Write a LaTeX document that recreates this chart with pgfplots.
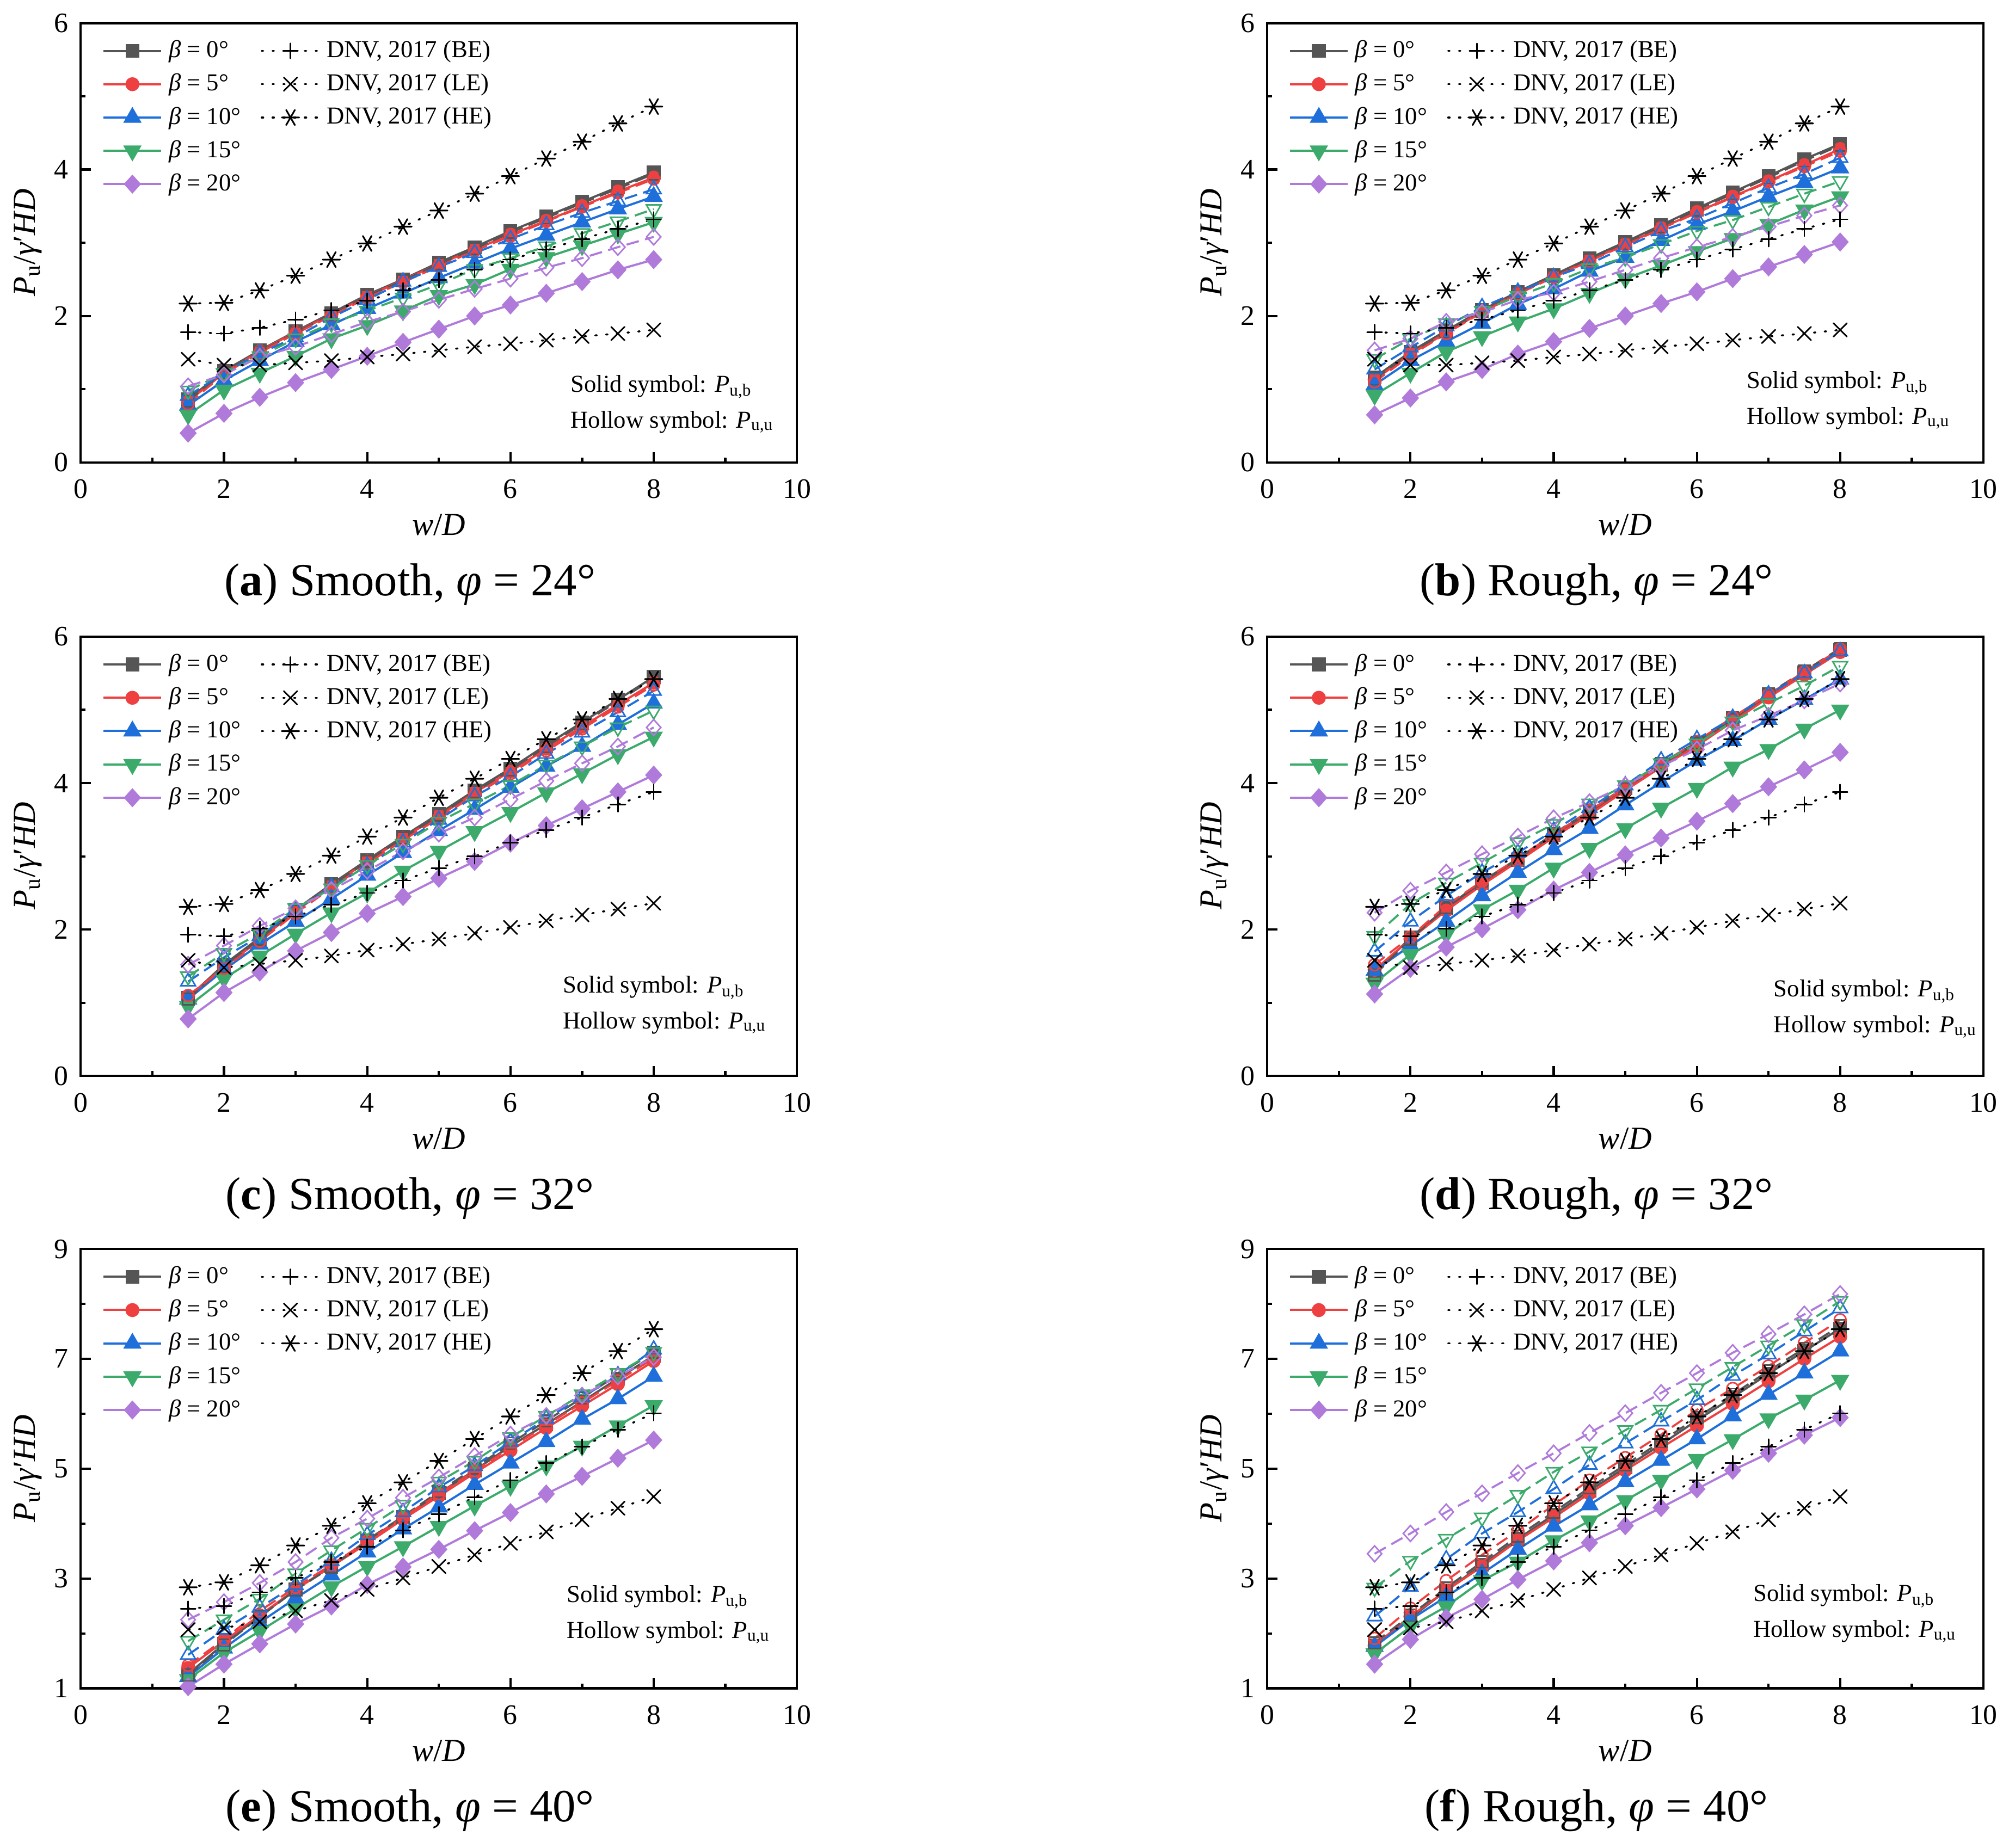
\documentclass[border=0pt]{standalone}
\usepackage{fontspec}
\setmainfont{Liberation Serif}
\usepackage{pgfplots}
\usepackage{pgfplotstable}
\pgfplotsset{compat=1.18}

\definecolor{c0}{RGB}{85,85,85}
\definecolor{c5}{RGB}{238,64,64}
\definecolor{c10}{RGB}{30,111,217}
\definecolor{c15}{RGB}{59,170,107}
\definecolor{c20}{RGB}{176,122,219}

% panel tables: x, solid (beta=0,5,10,15,20), hollow (beta=0,5,10,15,20)
\pgfplotstableread{
x s0 s5 s10 s15 s20 h0 h5 h10 h15 h20
1.5 0.86 0.84 0.78 0.65 0.40 0.84 0.80 0.91 0.98 1.04
2 1.25 1.22 1.12 0.99 0.67 1.23 1.21 1.22 1.22 1.20
2.5 1.53 1.52 1.39 1.22 0.89 1.51 1.50 1.49 1.45 1.44
3 1.79 1.78 1.65 1.45 1.09 1.77 1.76 1.71 1.69 1.58
3.5 2.04 2.02 1.88 1.69 1.27 2.02 2.00 1.98 1.90 1.75
4 2.29 2.27 2.10 1.87 1.45 2.27 2.25 2.22 2.07 1.92
4.5 2.50 2.49 2.31 2.07 1.64 2.48 2.46 2.47 2.25 2.06
5 2.73 2.71 2.52 2.28 1.82 2.71 2.68 2.67 2.43 2.22
5.5 2.94 2.91 2.72 2.43 2.00 2.92 2.89 2.86 2.64 2.37
6 3.16 3.11 2.92 2.64 2.15 3.14 3.09 3.05 2.79 2.51
6.5 3.36 3.30 3.10 2.80 2.31 3.34 3.29 3.24 2.95 2.66
7 3.56 3.50 3.28 2.96 2.47 3.54 3.49 3.41 3.13 2.79
7.5 3.76 3.70 3.46 3.12 2.63 3.74 3.68 3.57 3.29 2.94
8 3.96 3.89 3.63 3.28 2.77 3.94 3.87 3.73 3.46 3.08
}\tA
\pgfplotstableread{
x s0 s5 s10 s15 s20 h0 h5 h10 h15 h20
1.5 1.16 1.13 1.06 0.92 0.65 1.14 1.10 1.27 1.41 1.53
2 1.51 1.48 1.39 1.22 0.88 1.49 1.46 1.57 1.69 1.69
2.5 1.80 1.77 1.65 1.51 1.10 1.78 1.76 1.86 1.90 1.92
3 2.08 2.06 1.90 1.72 1.27 2.06 2.05 2.12 2.07 2.05
3.5 2.33 2.31 2.16 1.92 1.48 2.31 2.30 2.33 2.27 2.22
4 2.56 2.54 2.37 2.10 1.65 2.54 2.53 2.53 2.45 2.32
4.5 2.79 2.76 2.61 2.31 1.83 2.77 2.75 2.71 2.65 2.47
5 3.01 2.98 2.80 2.51 2.00 2.99 2.97 2.94 2.80 2.63
5.5 3.24 3.20 3.03 2.69 2.17 3.22 3.19 3.16 2.98 2.79
6 3.47 3.42 3.25 2.88 2.33 3.45 3.41 3.33 3.16 2.94
6.5 3.69 3.63 3.43 3.06 2.51 3.67 3.62 3.54 3.31 3.08
7 3.91 3.84 3.63 3.25 2.67 3.89 3.83 3.75 3.49 3.22
7.5 4.14 4.06 3.82 3.45 2.84 4.12 4.04 3.94 3.67 3.37
8 4.35 4.28 4.02 3.63 3.01 4.33 4.25 4.16 3.84 3.51
}\tB
\pgfplotstableread{
x s0 s5 s10 s15 s20 h0 h5 h10 h15 h20
1.5 1.07 1.08 1.05 0.95 0.78 1.05 1.10 1.29 1.36 1.52
2 1.52 1.49 1.45 1.33 1.14 1.50 1.47 1.62 1.68 1.78
2.5 1.89 1.86 1.80 1.64 1.42 1.87 1.84 1.91 1.95 2.05
3 2.27 2.25 2.11 1.94 1.71 2.25 2.22 2.27 2.29 2.29
3.5 2.62 2.60 2.42 2.23 1.96 2.60 2.57 2.58 2.56 2.54
4 2.95 2.93 2.74 2.50 2.22 2.93 2.90 2.87 2.88 2.80
4.5 3.27 3.25 3.05 2.80 2.45 3.25 3.22 3.19 3.17 3.07
5 3.58 3.55 3.35 3.07 2.70 3.56 3.52 3.50 3.47 3.31
5.5 3.90 3.87 3.64 3.34 2.93 3.88 3.84 3.82 3.72 3.53
6 4.20 4.16 3.94 3.60 3.18 4.18 4.13 4.09 3.97 3.78
6.5 4.52 4.47 4.23 3.87 3.42 4.50 4.44 4.40 4.25 4.03
7 4.83 4.77 4.50 4.13 3.65 4.81 4.74 4.69 4.50 4.27
7.5 5.14 5.07 4.80 4.39 3.88 5.12 5.04 4.97 4.76 4.50
8 5.45 5.37 5.09 4.63 4.11 5.43 5.34 5.26 4.99 4.76
}\tC
\pgfplotstableread{
x s0 s5 s10 s15 s20 h0 h5 h10 h15 h20
1.5 1.40 1.45 1.44 1.27 1.12 1.38 1.52 1.70 1.91 2.23
2 1.89 1.87 1.78 1.66 1.47 1.87 1.90 2.11 2.35 2.53
2.5 2.29 2.26 2.11 1.93 1.76 2.30 2.33 2.46 2.64 2.78
3 2.64 2.61 2.46 2.27 2.01 2.66 2.66 2.78 2.91 3.03
3.5 2.95 2.93 2.78 2.54 2.27 2.97 2.97 3.05 3.19 3.27
4 3.29 3.26 3.09 2.84 2.54 3.31 3.30 3.35 3.44 3.52
4.5 3.60 3.57 3.38 3.11 2.78 3.62 3.62 3.66 3.72 3.74
5 3.93 3.90 3.70 3.38 3.02 3.95 3.94 3.97 3.97 3.97
5.5 4.25 4.22 4.01 3.66 3.25 4.27 4.26 4.31 4.27 4.23
6 4.54 4.51 4.31 3.93 3.48 4.56 4.57 4.60 4.54 4.46
6.5 4.87 4.84 4.58 4.22 3.72 4.89 4.90 4.89 4.84 4.72
7 5.20 5.17 4.87 4.46 3.95 5.22 5.21 5.21 5.09 4.92
7.5 5.51 5.48 5.14 4.74 4.18 5.53 5.52 5.50 5.33 5.13
8 5.82 5.79 5.42 5.00 4.42 5.84 5.83 5.80 5.60 5.36
}\tD
\pgfplotstableread{
x s0 s5 s10 s15 s20 h0 h5 h10 h15 h20
1.5 1.26 1.37 1.21 1.16 1.03 1.24 1.42 1.61 1.86 2.25
2 1.81 1.86 1.73 1.65 1.44 1.79 1.89 2.07 2.25 2.57
2.5 2.31 2.33 2.20 2.04 1.81 2.30 2.41 2.47 2.63 2.92
3 2.80 2.80 2.64 2.45 2.17 2.79 2.84 2.88 3.09 3.30
3.5 3.22 3.22 3.06 2.85 2.50 3.21 3.25 3.32 3.51 3.74
4 3.69 3.64 3.48 3.22 2.89 3.70 3.68 3.79 3.92 4.09
4.5 4.11 4.08 3.90 3.58 3.21 4.13 4.11 4.21 4.34 4.47
5 4.55 4.50 4.30 3.95 3.53 4.58 4.54 4.66 4.76 4.84
5.5 4.97 4.92 4.71 4.32 3.87 5.01 4.96 5.05 5.14 5.23
6 5.41 5.33 5.10 4.68 4.20 5.46 5.38 5.49 5.57 5.62
6.5 5.81 5.74 5.49 5.05 4.54 5.87 5.79 5.91 5.96 5.96
7 6.22 6.14 5.90 5.41 4.86 6.29 6.20 6.30 6.35 6.33
7.5 6.64 6.54 6.27 5.78 5.19 6.71 6.60 6.70 6.74 6.68
8 7.06 6.96 6.68 6.15 5.52 7.12 7.01 7.17 7.12 7.03
}\tE
\pgfplotstableread{
x s0 s5 s10 s15 s20 h0 h5 h10 h15 h20
1.5 1.78 1.78 1.76 1.63 1.44 1.83 1.91 2.31 2.83 3.45
2 2.28 2.31 2.25 2.12 1.89 2.33 2.46 2.85 3.32 3.82
2.5 2.78 2.78 2.67 2.49 2.28 2.83 2.96 3.35 3.72 4.21
3 3.25 3.22 3.09 2.96 2.62 3.30 3.43 3.82 4.11 4.55
3.5 3.72 3.69 3.53 3.30 2.98 3.77 3.87 4.21 4.52 4.92
4 4.16 4.11 3.95 3.69 3.32 4.21 4.34 4.63 4.94 5.28
4.5 4.60 4.55 4.34 4.05 3.65 4.65 4.79 5.07 5.31 5.65
5 5.02 4.97 4.76 4.42 3.96 5.07 5.20 5.46 5.70 6.01
5.5 5.44 5.38 5.15 4.79 4.29 5.49 5.62 5.86 6.07 6.38
6 5.88 5.78 5.54 5.17 4.63 5.93 6.07 6.25 6.46 6.74
6.5 6.30 6.18 5.96 5.53 4.97 6.35 6.46 6.69 6.85 7.11
7 6.73 6.59 6.35 5.91 5.28 6.78 6.87 7.08 7.24 7.45
7.5 7.14 7.00 6.74 6.25 5.61 7.19 7.29 7.50 7.63 7.81
8 7.55 7.40 7.14 6.61 5.93 7.60 7.71 7.92 8.05 8.18
}\tF
% DNV, 2017 curves: BE, LE, HE
\pgfplotstableread{
x be le he
1.5 1.78 1.41 2.17
2 1.76 1.33 2.18
2.5 1.84 1.33 2.35
3 1.95 1.36 2.55
3.5 2.08 1.39 2.77
4 2.21 1.44 2.99
4.5 2.35 1.48 3.22
5 2.49 1.53 3.44
5.5 2.63 1.58 3.67
6 2.77 1.62 3.91
6.5 2.91 1.67 4.15
7 3.05 1.72 4.38
7.5 3.19 1.76 4.63
8 3.32 1.81 4.86
}\dnvA
\pgfplotstableread{
x be le he
1.5 1.93 1.58 2.31
2 1.91 1.48 2.35
2.5 2.01 1.53 2.54
3 2.18 1.58 2.76
3.5 2.34 1.64 3.01
4 2.50 1.72 3.27
4.5 2.67 1.80 3.53
5 2.84 1.87 3.80
5.5 3.00 1.95 4.06
6 3.19 2.03 4.33
6.5 3.36 2.12 4.60
7 3.53 2.20 4.87
7.5 3.71 2.28 5.15
8 3.88 2.36 5.42
}\dnvB
\pgfplotstableread{
x be le he
1.5 2.45 2.07 2.84
2 2.50 2.10 2.93
2.5 2.75 2.21 3.24
3 3.01 2.41 3.60
3.5 3.30 2.60 3.96
4 3.58 2.80 4.37
4.5 3.88 3.01 4.75
5 4.17 3.22 5.14
5.5 4.48 3.43 5.54
6 4.79 3.64 5.95
6.5 5.10 3.85 6.34
7 5.40 4.07 6.74
7.5 5.71 4.28 7.14
8 6.01 4.49 7.54
}\dnvC

\pgfplotsset{
  S0/.style={c0, solid, line width=0.85pt, mark=square*, mark size=2.25pt, mark options={solid}},
  S5/.style={c5, solid, line width=0.85pt, mark=*, mark size=2.3pt, mark options={solid}},
  S10/.style={c10, solid, line width=0.85pt, mark=triangle*, mark size=3.3pt, mark options={solid}},
  S15/.style={c15, solid, line width=0.85pt, mark=triangle*, mark size=3.3pt, mark options={solid, rotate=180}},
  S20/.style={c20, solid, line width=0.85pt, mark=diamond*, mark size=3.1pt, mark options={solid, xscale=1.2}},
  H0/.style={c0, line width=0.8pt, dash pattern=on 5pt off 2.5pt, mark=square, mark size=2.25pt, mark options={solid, line width=0.6pt}},
  H5/.style={c5, line width=0.8pt, dash pattern=on 5pt off 2.5pt, mark=o, mark size=2.3pt, mark options={solid, line width=0.6pt}},
  H10/.style={c10, line width=0.8pt, dash pattern=on 5pt off 2.5pt, mark=triangle, mark size=3.3pt, mark options={solid, line width=0.6pt}},
  H15/.style={c15, line width=0.8pt, dash pattern=on 5pt off 2.5pt, mark=triangle, mark size=3.3pt, mark options={solid, line width=0.6pt, rotate=180}},
  H20/.style={c20, line width=0.8pt, dash pattern=on 5pt off 2.5pt, mark=diamond, mark size=3.1pt, mark options={solid, line width=0.6pt, xscale=1.2}},
  BE/.style={black, line width=0.75pt, line cap=round, dash pattern=on 0.6pt off 3.6pt, mark=+, mark size=2.9pt, mark options={solid, line width=0.6pt}},
  LE/.style={black, line width=0.75pt, line cap=round, dash pattern=on 0.6pt off 3.6pt, mark=x, mark size=3.7pt, mark options={solid, line width=0.6pt}},
  HE/.style={black, line width=0.75pt, line cap=round, dash pattern=on 0.6pt off 3.6pt, mark=asterisk, mark size=3.4pt, mark options={solid, line width=0.65pt, rotate=90}},
  myax/.style={
    scale only axis, width=279.5pt, height=171.5pt,
    anchor=south west,
    xmin=0, xmax=10, xtick={0,2,...,10}, minor xtick={1,3,...,9},
    tick pos=left, tick align=inside,
    major tick length=4pt, minor tick length=1.9pt,
    axis line style={line width=0.9pt},
    major tick style={black, line width=0.9pt},
    minor tick style={black, line width=0.9pt},
    ticklabel style={font=\fontsize{11}{13}\selectfont},
    /pgf/number format/assume math mode=true,
    xticklabel style={anchor=base, yshift=-14pt},
    yticklabel style={xshift=-1.3pt},
    legend columns=2,
    legend cell align=left,
    legend image code/.code={\draw[mark repeat=2,mark phase=2,##1] plot coordinates {(0pt,0pt) (11.25pt,0pt) (22.5pt,0pt)};},
    legend style={draw=none, fill=none, inner sep=0pt, outer sep=0pt,
      at={(0.0304,0.9746)}, anchor=north west,
      font=\fontsize{9.5}{11}\selectfont,
      nodes={inner xsep=2.5pt, inner ysep=0pt, minimum height=13pt},
      row sep=0pt, column sep=0pt},
  },
  ysmall/.style={ymin=0, ymax=6, ytick={0,2,4,6}, minor ytick={1,3,5}},
  ybig/.style={ymin=1, ymax=9, ytick={1,3,5,7,9}, minor ytick={2,4,6,8}},
}

\newcommand\mylegend{%
  \addlegendimage{S0}\addlegendentry{\makebox[33.4pt][l]{\textit{β} = 0°}}
  \addlegendimage{BE}\addlegendentry{DNV, 2017 (BE)}
  \addlegendimage{S5}\addlegendentry{\makebox[33.4pt][l]{\textit{β} = 5°}}
  \addlegendimage{LE}\addlegendentry{DNV, 2017 (LE)}
  \addlegendimage{S10}\addlegendentry{\makebox[33.4pt][l]{\textit{β} = 10°}}
  \addlegendimage{HE}\addlegendentry{DNV, 2017 (HE)}
  \addlegendimage{S15}\addlegendentry{\makebox[33.4pt][l]{\textit{β} = 15°}}
  \addlegendimage{empty legend}\addlegendentry{}
  \addlegendimage{S20}\addlegendentry{\makebox[33.4pt][l]{\textit{β} = 20°}}
  \addlegendimage{empty legend}\addlegendentry{}
}
\newcommand\drawall[2]{%
  \addplot[S0, forget plot] table[x=x,y=s0]{#1};
  \addplot[S5, forget plot] table[x=x,y=s5]{#1};
  \addplot[S10, forget plot] table[x=x,y=s10]{#1};
  \addplot[S15, forget plot] table[x=x,y=s15]{#1};
  \addplot[S20, forget plot] table[x=x,y=s20]{#1};
  \addplot[H0, forget plot] table[x=x,y=h0]{#1};
  \addplot[H5, forget plot] table[x=x,y=h5]{#1};
  \addplot[H10, forget plot] table[x=x,y=h10]{#1};
  \addplot[H15, forget plot] table[x=x,y=h15]{#1};
  \addplot[H20, forget plot] table[x=x,y=h20]{#1};
  \addplot[BE, forget plot] table[x=x,y=be]{#2};
  \addplot[LE, forget plot] table[x=x,y=le]{#2};
  \addplot[HE, forget plot] table[x=x,y=he]{#2};
}
\newcommand\ylab{\textit{P}\textsubscript{u}/\textit{γ}′\textit{HD}}
\newcommand\xlab{\textit{w}/\textit{D}}
\newcommand\solid{Solid symbol: \textit{P}\textsubscript{u,b}}
\newcommand\hollow{Hollow symbol: \textit{P}\textsubscript{u,u}}

\begin{document}
\begin{tikzpicture}
\path[use as bounding box] (0pt,0pt) rectangle (784pt,-721.3pt);

\begin{axis}[myax, ysmall, at={(31.5pt,-180.5pt)}]
\mylegend
\drawall{\tA}{\dnvA}
\end{axis}
\begin{axis}[myax, ysmall, at={(494.5pt,-180.5pt)}]
\mylegend
\drawall{\tB}{\dnvA}
\end{axis}
\begin{axis}[myax, ysmall, at={(31.5pt,-420pt)}]
\mylegend
\drawall{\tC}{\dnvB}
\end{axis}
\begin{axis}[myax, ysmall, at={(494.5pt,-420pt)}]
\mylegend
\drawall{\tD}{\dnvB}
\end{axis}
\begin{axis}[myax, ybig, at={(31.5pt,-659pt)}]
\mylegend
\drawall{\tE}{\dnvC}
\end{axis}
\begin{axis}[myax, ybig, at={(494.5pt,-659pt)}]
\mylegend
\drawall{\tF}{\dnvC}
\end{axis}

% y labels
\foreach \yy in {-94.75pt,-334pt,-573.25pt}{
  \node[rotate=90, anchor=base, font=\fontsize{12.5}{14}\selectfont, inner sep=0pt] at (13.8pt,\yy) {\ylab};
  \node[rotate=90, anchor=base, font=\fontsize{12.5}{14}\selectfont, inner sep=0pt] at (476.8pt,\yy) {\ylab};
}
% x labels
\foreach \yy in {-209pt,-448.5pt,-687.5pt}{
  \node[anchor=base, font=\fontsize{12.5}{14}\selectfont, inner sep=0pt] at (171.25pt,\yy) {\xlab};
  \node[anchor=base, font=\fontsize{12.5}{14}\selectfont, inner sep=0pt] at (634.25pt,\yy) {\xlab};
}
% annotations
\begin{scope}[every node/.style={anchor=base west, inner sep=0pt, font=\fontsize{9.5}{11}\selectfont}]
\node at (222.5pt,-153pt) {\solid};   \node at (222.5pt,-167pt) {\hollow};
\node at (681.5pt,-151.5pt) {\solid}; \node at (681.5pt,-165.5pt) {\hollow};
\node at (219.5pt,-387.5pt) {\solid}; \node at (219.5pt,-401.5pt) {\hollow};
\node at (692pt,-389pt) {\solid};     \node at (692pt,-403pt) {\hollow};
\node at (221pt,-625.5pt) {\solid};   \node at (221pt,-639.5pt) {\hollow};
\node at (684pt,-625pt) {\solid};     \node at (684pt,-639pt) {\hollow};
\end{scope}
% captions
\begin{scope}[every node/.style={anchor=base, inner sep=0pt, font=\fontsize{18}{21}\selectfont}]
\node at (160pt,-232.5pt) {(\textbf{a}) Smooth, \textit{φ} = 24°};
\node at (623pt,-232.5pt) {(\textbf{b}) Rough, \textit{φ} = 24°};
\node at (160pt,-472pt) {(\textbf{c}) Smooth, \textit{φ} = 32°};
\node at (623pt,-472pt) {(\textbf{d}) Rough, \textit{φ} = 32°};
\node at (160pt,-711pt) {(\textbf{e}) Smooth, \textit{φ} = 40°};
\node at (623pt,-711pt) {(\textbf{f}) Rough, \textit{φ} = 40°};
\end{scope}
\end{tikzpicture}
\end{document}
